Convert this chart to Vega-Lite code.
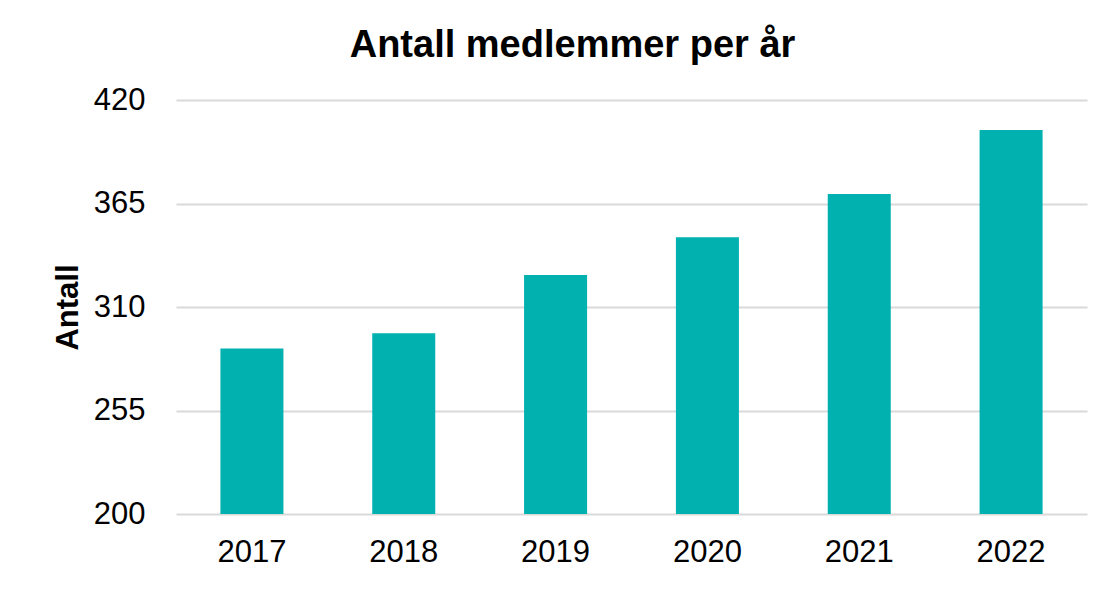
{
  "$schema": "https://vega.github.io/schema/vega-lite/v6.json",
  "width": 911,
  "height": 414,
  "autosize": {"type": "none"},
  "padding": {"left": 176, "top": 100, "right": 25, "bottom": 81},
  "background": "white",
  "data": {"values": [
    {"year": "2017", "antall": 288},
    {"year": "2018", "antall": 296},
    {"year": "2019", "antall": 327},
    {"year": "2020", "antall": 347},
    {"year": "2021", "antall": 370},
    {"year": "2022", "antall": 404}
  ]},
  "title": {
    "text": "Antall medlemmer per år",
    "font": "Liberation Sans",
    "fontSize": 38,
    "fontWeight": "bold",
    "color": "black",
    "anchor": "middle",
    "frame": "group",
    "dx": -59,
    "offset": 19
  },
  "mark": {"type": "bar", "color": "#00B1B0", "clip": true},
  "encoding": {
    "x": {
      "field": "year",
      "type": "ordinal",
      "scale": {"paddingInner": 0.585, "paddingOuter": 0.2925},
      "axis": {
        "title": null,
        "labelAngle": 0,
        "labelFont": "Liberation Sans",
        "labelFontSize": 31,
        "labelColor": "black",
        "labelPadding": 23,
        "ticks": false,
        "domain": false
      }
    },
    "y": {
      "field": "antall",
      "type": "quantitative",
      "scale": {"domain": [200, 420], "zero": false, "nice": false},
      "axis": {
        "title": "Antall",
        "titleFont": "Liberation Sans",
        "titleFontSize": 31,
        "titleFontWeight": "bold",
        "titleColor": "black",
        "titlePadding": 9,
        "values": [200, 255, 310, 365, 420],
        "labelFont": "Liberation Sans",
        "labelFontSize": 31,
        "labelColor": "black",
        "labelPadding": 31,
        "ticks": false,
        "domain": false,
        "grid": true,
        "gridColor": "#D9D9D9",
        "gridWidth": 2
      }
    }
  },
  "config": {"view": {"stroke": null}}
}
